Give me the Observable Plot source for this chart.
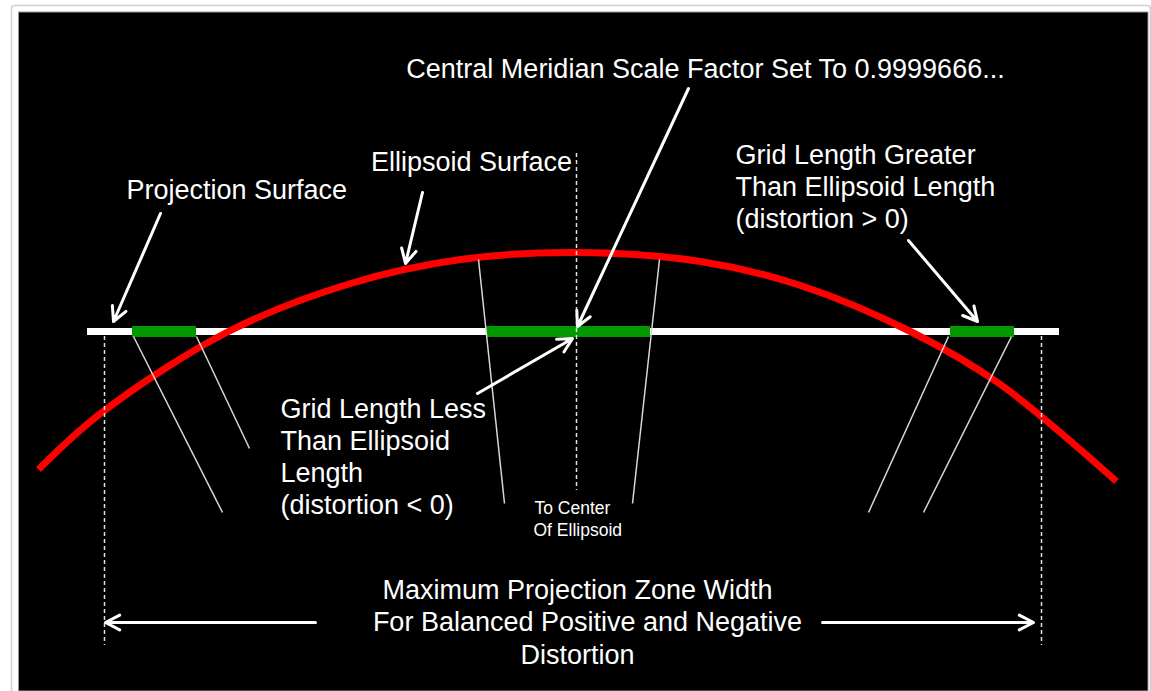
<!DOCTYPE html>
<html>
<head>
<meta charset="utf-8">
<script src="https://cdn.jsdelivr.net/npm/d3@7"></script>
<script src="https://cdn.jsdelivr.net/npm/@observablehq/plot@0.6"></script>
<style>
  html, body { margin: 0; padding: 0; background: #fff; }
  #chart svg { display: block; }
</style>
</head>
<body>
<div id="chart"></div>
<script>
// Diagram geometry (pixel-space units of the drawing)
const frameOuter = [{x1: 11.5, y1: 5.5, x2: 1150.5, y2: 700}];
const frameInner = [{x1: 18.5, y1: 12, x2: 1148, y2: 691}];

const projectionSurface = [{x1: 87, x2: 1059, y: 331}];
const greenSegments = [
  {x1: 132, x2: 196, y: 331},
  {x1: 486, x2: 650, y: 331},
  {x1: 950, x2: 1014, y: 331}
];
const arcX = [38, 100, 228, 350, 460, 576, 700, 800, 910, 1000, 1116];
const arcY = [469, 413, 331, 283, 259, 252, 261, 285, 331, 384, 481];

const radialLines = [
  {x1: 133, y1: 336, x2: 222, y2: 512},
  {x1: 196, y1: 336, x2: 249, y2: 448},
  {x1: 478, y1: 259, x2: 504, y2: 503},
  {x1: 659, y1: 259, x2: 632, y2: 503},
  {x1: 948, y1: 336, x2: 868, y2: 512},
  {x1: 1011, y1: 336, x2: 923, y2: 512}
];
const dashedLines = [
  {x: 576, y1: 153, y2: 490},
  {x: 104, y1: 336, y2: 645},
  {x: 1041, y1: 336, y2: 645}
];
const arrows = [
  {x1: 688, y1: 88, x2: 577, y2: 326},
  {x1: 422, y1: 192, x2: 405, y2: 263},
  {x1: 160, y1: 213, x2: 113, y2: 321},
  {x1: 908, y1: 240, x2: 977, y2: 321},
  {x1: 477, y1: 393, x2: 572, y2: 338},
  {x1: 315, y1: 622, x2: 105, y2: 622},
  {x1: 822, y1: 622, x2: 1033, y2: 622}
];

const labelsMiddle = [
  {x: 705, y: 69, text: "Central Meridian Scale Factor Set To 0.9999666..."},
  {x: 471, y: 162, text: "Ellipsoid Surface"},
  {x: 577, y: 590, text: "Maximum Projection Zone Width"},
  {x: 587, y: 622, text: "For Balanced Positive and Negative"},
  {x: 577, y: 655, text: "Distortion"}
];
const labelsStart = [
  {x: 126, y: 190, text: "Projection Surface"},
  {x: 735, y: 155, text: "Grid Length Greater"},
  {x: 735, y: 187, text: "Than Ellipsoid Length"},
  {x: 735, y: 219, text: "(distortion > 0)"},
  {x: 280, y: 409, text: "Grid Length Less"},
  {x: 280, y: 441, text: "Than Ellipsoid"},
  {x: 280, y: 473, text: "Length"},
  {x: 280, y: 505, text: "(distortion < 0)"}
];
const labelsSmall = [
  {x: 534, y: 508, text: "To Center"},
  {x: 533, y: 530, text: "Of Ellipsoid"}
];

const arc = arcX.map((x, i) => ({x, y: arcY[i]}));
const font = "Liberation Sans, Arial, Helvetica, sans-serif";

const chart = Plot.plot({
  width: 1151,
  height: 691,
  margin: 0,
  x: {domain: [0, 1151], range: [0, 1151], axis: null},
  y: {domain: [0, 691], range: [0, 691], axis: null},
  style: {background: "#fff"},
  marks: [
    Plot.rect(frameOuter, {x1: "x1", x2: "x2", y1: "y1", y2: "y2", fill: "#fff", stroke: "#cfcfcf", strokeWidth: 1.5, rx: 3}),
    Plot.rect(frameInner, {x1: "x1", x2: "x2", y1: "y1", y2: "y2", fill: "#000", stroke: "#999", strokeWidth: 1}),
    Plot.ruleY(projectionSurface, {x1: "x1", x2: "x2", y: "y", stroke: "#fff", strokeWidth: 7}),
    Plot.ruleY(greenSegments, {x1: "x1", x2: "x2", y: "y", stroke: "#009a00", strokeWidth: 11}),
    Plot.line(arc, {x: "x", y: "y", curve: "catmull-rom", stroke: "#ff0000", strokeWidth: 7, strokeLinecap: "butt"}),
    Plot.link(radialLines, {x1: "x1", y1: "y1", x2: "x2", y2: "y2", stroke: "#d8d8d8", strokeWidth: 1.5}),
    Plot.ruleX(dashedLines, {x: "x", y1: "y1", y2: "y2", stroke: "#e0e0e0", strokeWidth: 1.5, strokeDasharray: "4,3"}),
    Plot.arrow(arrows, {x1: "x1", y1: "y1", x2: "x2", y2: "y2", stroke: "#fff", strokeWidth: 3, headLength: 8, headAngle: 55}),
    Plot.text(labelsMiddle, {x: "x", y: "y", text: "text", fill: "#fff", fontSize: 27, fontFamily: font, textAnchor: "middle", lineAnchor: "middle"}),
    Plot.text(labelsStart, {x: "x", y: "y", text: "text", fill: "#fff", fontSize: 27, fontFamily: font, textAnchor: "start", lineAnchor: "middle"}),
    Plot.text(labelsSmall, {x: "x", y: "y", text: "text", fill: "#fff", fontSize: 17.5, fontFamily: font, textAnchor: "start", lineAnchor: "middle"})
  ]
});
document.getElementById("chart").appendChild(chart);
</script>
</body>
</html>
